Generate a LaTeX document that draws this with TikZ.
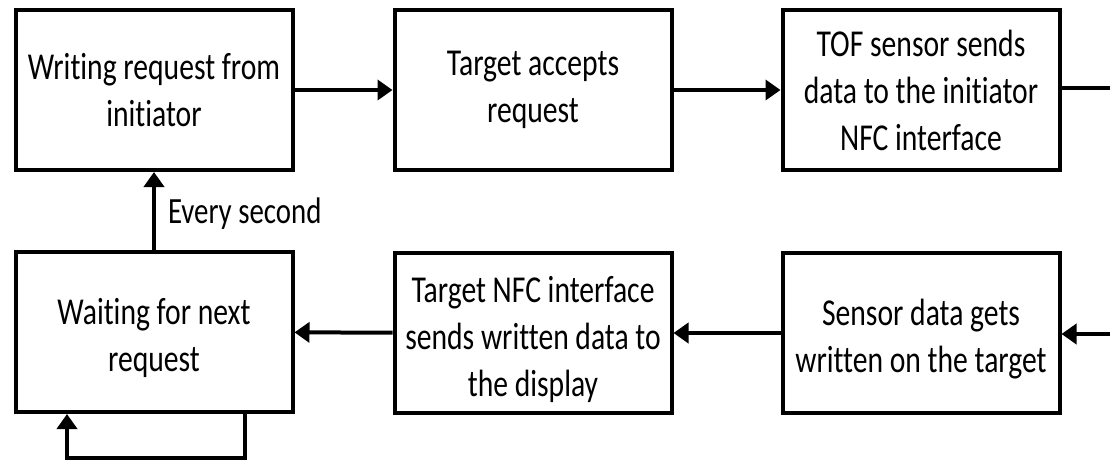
\documentclass[tikz,border=0pt]{standalone}
\usepackage{fontspec}
\setmainfont{Carlito}[FakeStretch=0.78,Ligatures=NoCommon]
\usetikzlibrary{arrows.meta}
% tall first-line strut: sets the text of a box a little lower
\newcommand\lowstrut{\rule{0pt}{39pt}}
\begin{document}
\begin{tikzpicture}[x=1pt,y=-1pt,
  blk/.style={draw, line width=4pt, minimum width=277pt, minimum height=160pt,
    align=center, inner sep=0pt, font=\fontsize{38}{47}\selectfont},
  link/.style={line width=4pt, -{Triangle[length=15pt,width=20pt]}},
  wire/.style={line width=4pt},
  lbl/.style={font=\fontsize{37}{44}\selectfont, inner sep=0pt}]
\useasboundingbox (0,0) rectangle (1110,464);
\fill[white] (0,0) rectangle (1110,464);

% upper row
\node[blk] (b1) at (154,90)  {Writing request from\\initiator};
\node[blk] (b2) at (533,90)  {Target accepts\\request};
\node[blk] (b3) at (921,90)  {TOF sensor sends\\data to the initiator\\NFC interface};
% lower row
\node[blk] (b4) at (154,332) {\lowstrut Waiting for next\\request};
\node[blk] (b5) at (533,333) {\lowstrut Target NFC interface\\sends written data to\\the display};
\node[blk] (b6) at (921,333) {\lowstrut Sensor data gets\\written on the target};

% open ends at the right margin
\coordinate (outR) at (1110,88);
\coordinate (inR)  at (1110,334);

\draw[link] (b1) -- (b2);
\draw[link] (b2) -- (b3);
\draw[wire] (b3.east |- outR) -- (outR);
\draw[link] (inR) -- (inR -| b6.east);
\draw[link] (b6) -- (b5);
\draw[link] (b5) -- (b4);
\draw[link] (b4) -- node[lbl, right=12pt, yshift=-3pt] {Every second} (b1);
\draw[link] ([xshift=91pt]b4.south) -- ++(0,44) -| ([xshift=-87pt]b4.south);
\end{tikzpicture}
\end{document}
